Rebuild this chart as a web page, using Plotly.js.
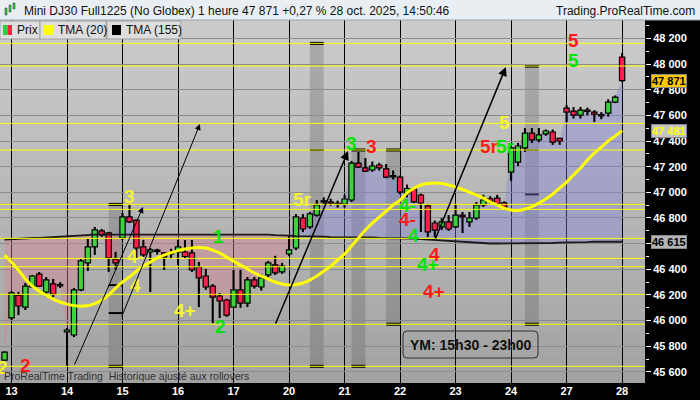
<!DOCTYPE html>
<html><head><meta charset="utf-8">
<script src="https://cdn.plot.ly/plotly-3.0.1.min.js"></script>
<style>html,body{margin:0;padding:0;background:#000;}#chart{width:700px;height:400px;}</style>
</head><body><div id="chart"></div>
<script>
// ---------- DATA ----------
const dayLabels = ['13','14','15','16','17','20','21','22','23','24','27','28'];
const barsPerDay = 8;

const openP = [45693,
46022,46199,46106,46262,46363,46223,46286,46280,
45912,45888,46239,46450,46575,46700,46684,46480,
46644,46808,46784,46575,46535,46550,46528,46520,
46535,46535,46528,46418,46348,46269,46192,46161,
46106,46239,46137,46317,46262,46356,46434,46380,
46520,46566,46800,46730,46823,46930,46925,46915,
46908,46940,47228,47190,47174,47213,47182,47130,
47119,46990,47027,46979,46894,46761,46730,46769,
46730,46823,46770,46800,46902,46950,46955,46918,
47158,47236,47346,47462,47408,47455,47470,47420,
47656,47633,47602,47641,47625,47605,47617,47703,
48054];
const highP = [45760,
46230,46225,46294,46355,46379,46340,46325,46300,
45942,46254,46480,46636,46730,46715,46692,46536,
46839,46901,46790,46628,46566,46560,46536,46560,
46628,46628,46628,46458,46403,46285,46215,46170,
46395,46395,46340,46340,46360,46465,46505,46450,
46668,46830,46830,46847,46940,46960,46950,46935,
46980,47245,47314,47267,47240,47230,47220,47170,
47130,47060,47041,46990,46910,46780,46800,46823,
46902,46847,46847,46925,46980,46970,46980,46930,
47353,47385,47501,47501,47501,47490,47490,47425,
47680,47665,47665,47660,47640,47625,47725,47755,
48085];
const lowP = [45690,
46006,46043,46083,46255,46262,46184,46184,46255,
45646,45872,46230,46387,46512,46653,46380,46395,
46628,46760,46489,46497,46223,46515,46395,46480,
46434,46480,46380,46106,46240,45981,46020,46030,
46106,46100,46106,46250,46235,46340,46356,46365,
46504,46550,46690,46715,46810,46900,46895,46880,
46880,46925,47190,47158,47160,47170,47110,47100,
46985,46960,46917,46691,46652,46650,46706,46700,
46722,46683,46730,46785,46885,46910,46895,46880,
47088,47205,47314,47385,47390,47440,47370,47370,
47548,47575,47575,47600,47548,47570,47590,47695,
47860];
const closeP = [45755,
46217,46114,46269,46348,46269,46317,46207,46270,
45927,46239,46465,46575,46707,46668,46489,46450,
46808,46769,46566,46512,46551,46540,46497,46530,
46575,46500,46395,46333,46262,46184,46153,46043,
46239,46137,46317,46269,46333,46450,46372,46426,
46551,46808,46714,46832,46902,46925,46915,46905,
46948,47228,47197,47165,47205,47190,47119,47120,
47002,47030,46926,46917,46691,46706,46770,46714,
46823,46808,46800,46902,46940,46930,46910,46885,
47346,47361,47462,47408,47447,47478,47392,47400,
47625,47602,47641,47630,47610,47595,47703,47742,
47871];
const tma20 = [46511,
46456,46394,46324,46269,46230,46199,46168,46145,
46129,46117,46113,46117,46133,46160,46199,46254,
46301,46340,46386,46425,46456,46488,46511,46530,
46546,46558,46566,46570,46566,46550,46527,46495,
46464,46433,46402,46371,46347,46324,46301,46285,
46277,46281,46293,46316,46347,46386,46425,46472,
46519,46581,46644,46706,46760,46807,46854,46901,
46940,46994,47033,47057,47068,47072,47068,47057,
47041,47022,47002,46979,46955,46924,46901,46877,
46862,46858,46870,46889,46916,46948,46987,47033,
47080,47135,47189,47251,47306,47353,47400,47438,
47481];
const tma155 = [46632,
46636,46636,46640,46644,46644,46648,46651,46655,
46659,46663,46667,46671,46671,46671,46671,46671,
46671,46675,46675,46675,46675,46675,46675,46675,
46675,46675,46675,46675,46675,46675,46675,46675,
46675,46675,46675,46675,46671,46671,46667,46667,
46663,46659,46659,46655,46655,46655,46651,46651,
46651,46651,46651,46648,46648,46644,46644,46644,
46644,46640,46640,46636,46632,46628,46624,46620,
46616,46612,46608,46605,46605,46601,46601,46601,
46601,46601,46601,46601,46605,46605,46605,46608,
46608,46612,46612,46612,46616,46616,46616,46616,
46615];

const yellowLevels = [48161, 47984, 47537, 47330, 46906, 46867, 46641, 46485, 46420, 46205, 45972, 45644];

const bandStart  = [14, 43, 49, 54, 74];
const bandTop    = [46906, 48161, 47330, 47330, 47984];
const bandBottom = [45644, 45644, 45644, 45972, 45972];
const bandTickBand  = [0, 0, 1, 3, 4, 4];
const bandTickPrice = [46277, 46059, 47330, 47330, 47330, 46984];

const waveText  = ['2','2','3','4-','4','1','4+','2','5r','3','3','4-','4-','4','4','4+','4+','5r','5r','5','5','5'];
const waveColor = ['y','r','y','y','y','g','y','g','y','g','r','g','r','g','r','g','r','r','g','y','r','g'];
const waveBar   = [-1.3, 1.95, 17.07, 17.94, 17.94, 29.9, 25.0, 30.19, 42.0, 49.06, 51.94, 57.0, 57.0, 58.0, 61.02, 60.0, 60.88, 68.95, 71.25, 71.1, 81.05, 81.05];
const wavePrice = [45631, 45647, 46971, 46503, 46277, 46659, 46082, 45957, 46948, 47384, 47361, 46901, 46792, 46667, 46519, 46441, 46231, 47361, 47361, 47548, 48187, 48031];

const arrowTail = [[9.0, 45647], [15.8, 46020], [37.97, 45966], [61.02, 46628]];
const arrowHead = [[18.95, 46886], [27.16, 47532], [48.5, 47322], [71.25, 47977]];

// ---------- BUILD ----------
const xIdx = closeP.map((_, i) => i - 1);
const upper = closeP.map((c, i) => Math.max(c, tma155[i]));
const lower = closeP.map((c, i) => Math.min(c, tma155[i]));
const fmt = n => String(Math.round(n)).replace(/\B(?=(\d{3})+(?!\d))/g, ' ');
const FONT = '"Liberation Sans", Arial, sans-serif';
const PW = 645, PH = 363, TOP = 20;
const px = v => v / PW;
const py = v => 1 - (v - TOP) / PH;

const bodyBase = closeP.map((c, i) => Math.min(c, openP[i]));
const bodyH = closeP.map((c, i) => Math.max(Math.abs(c - openP[i]), 9));
const bodyCol = closeP.map((c, i) => c >= openP[i] ? '#3cd23c' : '#ff1e4e');

const traces = [
  {type: 'bar', x: xIdx, base: lowP, y: highP.map((h, i) => h - lowP[i]), width: 0.3,
   marker: {color: '#000', line: {width: 0}}, hoverinfo: 'skip', showlegend: false},
  {type: 'bar', x: xIdx, base: bodyBase, y: bodyH, width: 0.76,
   marker: {color: bodyCol, line: {color: '#000', width: 1.2}}, hoverinfo: 'skip', showlegend: false},
  {x: xIdx, y: tma155, mode: 'lines', line: {color: '#1a1a1a', width: 1.8}, showlegend: false, hoverinfo: 'skip'},
  {x: xIdx, y: tma20, mode: 'lines', line: {color: '#ffff00', width: 3, shape: 'spline'}, showlegend: false, hoverinfo: 'skip'}
];

const shapes = [];
// background gradient
const N = 28;
for (let k = 0; k < N; k++) {
  const t = k / (N - 1);
  const c = Math.round(0xa3 + (0xcb - 0xa3) * t);
  shapes.push({type: 'rect', xref: 'paper', yref: 'paper', x0: 0, x1: 1, y0: k / N, y1: (k + 1) / N + 0.002,
    fillcolor: `rgb(${c},${c},${c})`, line: {width: 0}, layer: 'below'});
}
// dark bands
bandStart.forEach((b, i) => {
  shapes.push({type: 'rect', xref: 'x', yref: 'y', x0: b, x1: b + 2, y0: bandBottom[i], y1: bandTop[i],
    fillcolor: 'rgba(70,70,70,0.24)', line: {width: 0}, layer: 'below'});
  [bandTop[i], bandBottom[i]].forEach(v => shapes.push({type: 'line', xref: 'x', yref: 'y', x0: b, x1: b + 2, y0: v, y1: v,
    line: {color: '#000', width: 3}, layer: 'below'}));
});
bandTickBand.forEach((bi, i) => shapes.push({type: 'line', xref: 'x', yref: 'y', x0: bandStart[bi], x1: bandStart[bi] + 2,
  y0: bandTickPrice[i], y1: bandTickPrice[i], line: {color: '#000', width: 2}, layer: 'below'}));
// fills between close and TMA(155)
const polyPath = (top) => {
  let s = 'M ' + xIdx[0] + ',' + top[0];
  for (let i = 1; i < xIdx.length; i++) s += ' L ' + xIdx[i] + ',' + top[i];
  for (let i = xIdx.length - 1; i >= 0; i--) s += ' L ' + xIdx[i] + ',' + tma155[i];
  return s + ' Z';
};
shapes.push({type: 'path', xref: 'x', yref: 'y', path: polyPath(upper), fillcolor: 'rgba(128,128,222,0.38)',
  line: {width: 0}, layer: 'between'});
shapes.push({type: 'path', xref: 'x', yref: 'y', path: polyPath(lower), fillcolor: 'rgba(214,128,143,0.40)',
  line: {width: 0}, layer: 'between'});
// yellow levels
yellowLevels.forEach(v => shapes.push({type: 'line', xref: 'paper', yref: 'y', x0: 0, x1: 1, y0: v, y1: v,
  line: {color: '#ffff00', width: 1}, layer: 'above'}));
// YM box (rounded)
(() => {
  const x0 = 403, x1 = 538, y0 = 331, y1 = 358, r = 4;
  const P = (x, y) => px(x) + ',' + py(y);
  const path = 'M ' + P(x0 + r, y0) + ' L ' + P(x1 - r, y0) + ' Q ' + P(x1, y0) + ' ' + P(x1, y0 + r) +
    ' L ' + P(x1, y1 - r) + ' Q ' + P(x1, y1) + ' ' + P(x1 - r, y1) + ' L ' + P(x0 + r, y1) +
    ' Q ' + P(x0, y1) + ' ' + P(x0, y1 - r) + ' L ' + P(x0, y0 + r) + ' Q ' + P(x0, y0) + ' ' + P(x0 + r, y0) + ' Z';
  shapes.push({type: 'path', xref: 'paper', yref: 'paper', path: path, line: {color: '#303030', width: 1}, layer: 'above'});
})();
// header
shapes.push({type: 'rect', xref: 'paper', yref: 'paper', x0: 0, x1: px(700), y0: 1, y1: py(0),
  fillcolor: '#e9eef3', line: {width: 0}});
shapes.push({type: 'line', xref: 'paper', yref: 'paper', x0: 0, x1: px(700), y0: py(20), y1: py(20),
  line: {color: '#9aa3ab', width: 1}});
// legend cells
[[0, 40], [40, 106], [107, 181]].forEach(([a, b]) => shapes.push({type: 'rect', xref: 'paper', yref: 'paper',
  x0: px(a), x1: px(b), y0: py(39), y1: py(21), fillcolor: '#dedede', line: {color: '#a0a0a0', width: 1}, layer: 'above'}));
[[3, 8, '#2ecc40'], [8, 12, '#ff2040'], [44, 53, '#ffff00'], [112, 121, '#000000']].forEach(([a, b, c]) =>
  shapes.push({type: 'rect', xref: 'paper', yref: 'paper', x0: px(a), x1: px(b), y0: py(35), y1: py(25),
    fillcolor: c, line: {width: 0}, layer: 'above'}));
// header icon
[[5, 7, 8, 15, '#2ecc40'], [9, 11, 5, 12, '#2ecc40'], [13, 15, 3, 9, '#2ecc40']].forEach(([a, b, t, u, c]) =>
  shapes.push({type: 'rect', xref: 'paper', yref: 'paper', x0: px(a), x1: px(b), y0: py(u), y1: py(t),
    fillcolor: c, line: {color: '#333', width: 0.5}}));

const annotations = [];
const colMap = {y: '#f4f430', r: '#ff1a1a', g: '#00e400'};
waveText.forEach((t, i) => annotations.push({x: waveBar[i], y: wavePrice[i], xref: 'x', yref: 'y', text: t,
  showarrow: false, xanchor: 'center', yanchor: 'middle',
  font: {family: FONT, size: 19, color: colMap[waveColor[i]], weight: 'bold'}}));
arrowTail.forEach((tl, i) => annotations.push({x: arrowHead[i][0], y: arrowHead[i][1], ax: tl[0], ay: tl[1],
  xref: 'x', yref: 'y', axref: 'x', ayref: 'y', text: '', showarrow: true, arrowhead: 2, arrowsize: 1.2,
  arrowwidth: i < 2 ? 1 : 1.5, arrowcolor: '#000', standoff: 0, startstandoff: 0}));
const last = closeP.length - 1;
annotations.push({xref: 'paper', yref: 'y', x: px(651), y: closeP[last], xanchor: 'left', text: fmt(closeP[last]),
  showarrow: false, bgcolor: '#ffc800', bordercolor: '#8a8a8a', borderwidth: 1, borderpad: 0,
  font: {family: FONT, size: 11, color: '#000', weight: 'bold'}});
annotations.push({xref: 'paper', yref: 'y', x: px(651), y: tma20[last], xanchor: 'left', text: fmt(tma20[last]),
  showarrow: false, bgcolor: '#c4c4c4', bordercolor: '#8a8a8a', borderwidth: 1, borderpad: 0,
  font: {family: FONT, size: 11, color: '#ffff00', weight: 'bold'}});
annotations.push({xref: 'paper', yref: 'y', x: px(651), y: tma155[last], xanchor: 'left', text: fmt(tma155[last]),
  showarrow: false, bgcolor: '#b4b4b4', bordercolor: '#8a8a8a', borderwidth: 1, borderpad: 0,
  font: {family: FONT, size: 11, color: '#000', weight: 'bold'}});
annotations.push({xref: 'paper', yref: 'paper', x: px(470.5), y: py(344.5), xanchor: 'center', yanchor: 'middle',
  text: 'YM: 15h30 - 23h00', showarrow: false,
  font: {family: FONT, size: 14, color: '#111', weight: 'bold'}});
annotations.push({xref: 'paper', yref: 'paper', x: px(2), y: py(376), xanchor: 'left', yanchor: 'middle',
  text: 'ProRealTime Trading\u00a0 Historique ajusté aux rollovers', showarrow: false,
  font: {family: FONT, size: 10.5, color: '#303030'}});
annotations.push({xref: 'paper', yref: 'paper', x: px(22), y: py(11), xanchor: 'left', yanchor: 'middle',
  text: 'Mini DJ30 Full1225 (No Globex) 1 heure ' + fmt(closeP[last]) + ' +0,27 % 28 oct. 2025, 14:50:46',
  showarrow: false, font: {family: FONT, size: 12, color: '#111'}});
annotations.push({xref: 'paper', yref: 'paper', x: px(697), y: py(11), xanchor: 'right', yanchor: 'middle',
  text: 'Trading.ProRealTime.com', showarrow: false, font: {family: FONT, size: 12, color: '#111'}});
[[15, 'Prix'], [56, 'TMA (20)'], [124, 'TMA (155)']].forEach(([x, t]) => annotations.push({xref: 'paper', yref: 'paper',
  x: px(x), y: py(30), xanchor: 'left', yanchor: 'middle', text: t, showarrow: false,
  font: {family: FONT, size: 12, color: '#111'}}));

const layout = {
  width: 700, height: 400,
  margin: {l: 0, r: 55, t: 20, b: 17, pad: 0},
  paper_bgcolor: '#000', plot_bgcolor: '#b8b8b8',
  separators: ', ',
  showlegend: false, barmode: 'overlay',
  xaxis: {type: 'linear', range: [-1.66, 91.3], tickmode: 'array',
    tickvals: dayLabels.map((_, d) => d * barsPerDay), ticktext: dayLabels,
    showgrid: true, gridcolor: '#000', gridwidth: 1, zeroline: false, ticks: '', showline: false,
    tickfont: {family: FONT, size: 11, color: '#fff', weight: 'bold'}, fixedrange: true},
  yaxis: {side: 'right', range: [45514, 48343], dtick: 200, tick0: 0, tickformat: ',d',
    showgrid: true, gridcolor: '#8c8c8c', gridwidth: 1, zeroline: false, showline: false,
    ticks: 'outside', ticklen: 5, tickcolor: '#fff', tickwidth: 1,
    minor: {dtick: 100, ticks: 'outside', ticklen: 3, tickcolor: '#fff', showgrid: false},
    tickfont: {family: FONT, size: 11, color: '#fff', weight: 'bold'}, fixedrange: true},
  shapes: shapes,
  annotations: annotations
};
Plotly.newPlot('chart', traces, layout, {staticPlot: true, displayModeBar: false});
</script></body></html>
